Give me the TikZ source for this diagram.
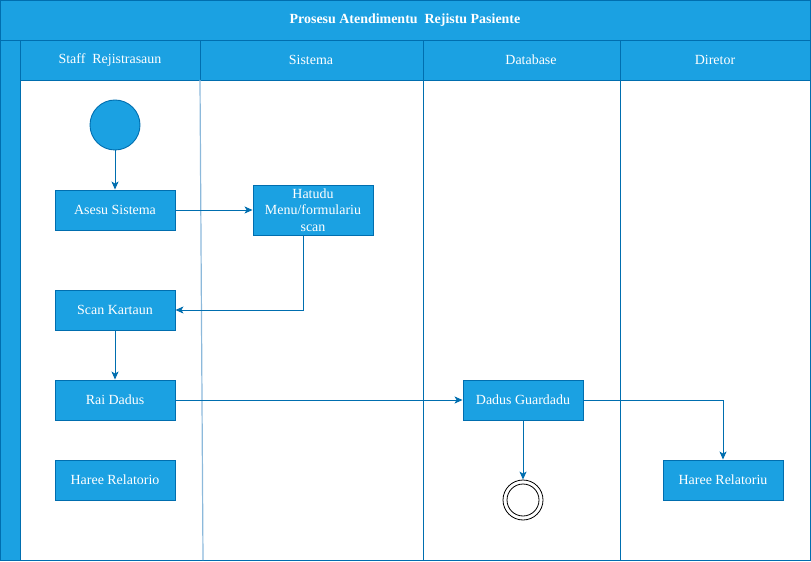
\documentclass[tikz,border=0pt]{standalone}
\usepackage{fontspec}
\setmainfont{Liberation Serif}
\usetikzlibrary{arrows.meta}

\definecolor{lanefill}{HTML}{1BA1E2}
\definecolor{laneline}{HTML}{006EAF}
\definecolor{laneedge}{HTML}{8CB9DB}

\tikzset{
  headbox/.style={draw=laneline, fill=lanefill, line width=0.9bp},
  headtext/.style={text=white, font=\fontsize{14}{16}\selectfont},
  actbox/.style={draw=laneline, fill=lanefill, text=white, line width=0.9bp,
    minimum width=120bp, minimum height=40bp, inner sep=1bp, align=center,
    font=\fontsize{14}{16.5}\selectfont},
  flow/.style={draw=laneline, line width=0.9bp, -{Stealth[length=8bp,width=7bp,inset=2bp]}}
}

\begin{document}
\begin{tikzpicture}[x=1bp, y=-1bp]
    \useasboundingbox (0,0) rectangle (811,562);

    % pool and lanes
    \draw[headbox] (0,0) rectangle (810,40);
    \draw[headbox] (0,40) rectangle (20,560);
    \draw[headbox] (20,40) rectangle (200,80);
    \draw[headbox] (200,40) rectangle (423,80);
    \draw[headbox] (423,40) rectangle (620,80);
    \draw[headbox] (620,40) rectangle (810,80);
    \draw[draw=laneline, line width=0.9bp] (20,80) rectangle (810,560);
    \draw[laneedge, line width=1.2bp] (200,80) -- (203,560);
    \draw[laneline, line width=0.9bp] (423,80) -- (423,560);
    \draw[laneline, line width=0.9bp] (620,80) -- (620,560);

    \node[headtext, font=\fontsize{14}{16}\selectfont\bfseries] (title) at (405,20) {Prosesu Atendimentu~ Rejistu Pasiente};
    \node[headtext] (staff) at (110,60) {Staff~ Rejistrasaun};
    \node[headtext] (sistema) at (311,60) {Sistema};
    \node[headtext] (database) at (531,60) {Database};
    \node[headtext] (diretor) at (715,60) {Diretor};

    % activities
    \node[circle, draw=laneline, fill=lanefill, line width=0.9bp, minimum size=50bp, inner sep=0pt] (start) at (115,125) {};
    \node[actbox] (asesu) at (115,210) {Asesu Sistema};
    \node[actbox, minimum height=50bp] (hatudu) at (313,210) {Hatudu\\Menu/formulariu\\scan};
    \node[actbox] (scan) at (115,310) {Scan Kartaun};
    \node[actbox] (rai) at (115,400) {Rai Dadus};
    \node[actbox] (relatorio) at (115,480) {Haree Relatorio};
    \node[actbox] (guardadu) at (523,400) {Dadus Guardadu};
    \node[actbox] (relatoriu) at (723,480) {Haree Relatoriu};
    \node[circle, draw=black, fill=white, line width=0.8bp, minimum size=40bp, inner sep=0pt] (fim) at (523,500) {};
    \draw[black, line width=0.8bp] (fim.center) circle (16bp);

    % flows
    \draw[flow] (start) -- (asesu);
    \draw[flow] (asesu) -- (hatudu);
    \draw[flow] ([xshift=-10bp]hatudu.south) |- (scan.east);
    \draw[flow] (scan) -- (rai);
    \draw[flow] (rai) -- (guardadu);
    \draw[flow] (guardadu.east) -| (relatoriu.north);
    \draw[flow] (guardadu) -- (fim);
\end{tikzpicture}
\end{document}
